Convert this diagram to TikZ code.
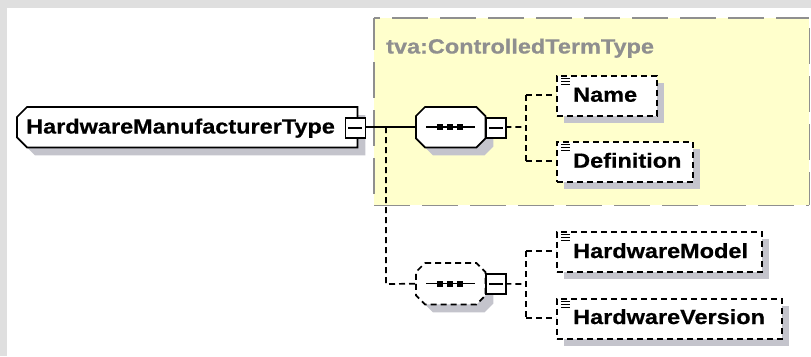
\documentclass[tikz,border=0pt]{standalone}
\usepackage{fontspec}
\setmainfont[FakeStretch=1.145,BoldFeatures={FakeBold=0.6}]{Liberation Sans}
\usetikzlibrary{calc}
\definecolor{pagegray}{HTML}{DFDFDF}
\definecolor{paleyellow}{HTML}{FFFFCC}
\definecolor{boxgray}{HTML}{8F8F8F}
\definecolor{shadowgray}{HTML}{C4C4CC}
% #1 node, #2 left chamfer, #3 right chamfer, #4 outline options
\newcommand{\chamferbox}[4]{%
  \fill[shadowgray] ($(#1.north west)+(8+#2,8)$) -- ($(#1.north east)+(8-#3,8)$) -- ($(#1.north east)+(8,8+#3)$) -- ($(#1.south east)+(8,8-#3)$) -- ($(#1.south east)+(8-#3,8)$) -- ($(#1.south west)+(8+#2,8)$) -- ($(#1.south west)+(8,8-#2)$) -- ($(#1.north west)+(8,8+#2)$) -- cycle;
  \draw[#4,fill=white] ($(#1.north west)+(#2,0)$) -- ($(#1.north east)+(-#3,0)$) -- ($(#1.north east)+(0,#3)$) -- ($(#1.south east)+(0,-#3)$) -- ($(#1.south east)+(-#3,0)$) -- ($(#1.south west)+(#2,0)$) -- ($(#1.south west)+(0,-#2)$) -- ($(#1.north west)+(0,#2)$) -- cycle;
}
\tikzset{
  x=1pt,y=-1pt,
  lbl/.style={font=\fontsize{20.5}{21}\selectfont\bfseries,text=black,inner sep=0pt,anchor=base west},
  geom/.style={rectangle,inner sep=0pt,anchor=north west},
  solidline/.style={draw=black,line width=1.7pt},
  dashline/.style={draw=black,line width=1.7pt,dash pattern=on 6pt off 4pt},
  regionedge/.style={draw=boxgray,line width=1.8pt,dash pattern=on 36pt off 12pt},
  elem/.style={geom,dashline,fill=white,minimum height=40pt},
  plusbox/.style={geom,draw=black,line width=1.8pt,fill=white,minimum width=20pt,minimum height=20pt},
  seqline/.style={draw=black,line width=1.5pt},
  seqdot/.style={fill=black,minimum size=6pt,inner sep=0pt,rectangle},
  dots/.style={draw=black,line width=0.9pt}
}
\begin{document}
\begin{tikzpicture}
\useasboundingbox (0,0) rectangle (811,356);
\fill[pagegray] (0,0) rectangle (811,356);
\fill[white] (7,8) rectangle (811,356);
% yellow region
\node[geom,fill=paleyellow,minimum width=435pt,minimum height=187pt] (region) at (374,18) {};
\draw[regionedge,dash phase=30pt] (region.north west) -- (region.north east);
\draw[regionedge,dash phase=4pt] (region.north west) -- (region.south west);
\draw[regionedge] (region.south west) -- (region.south east);
\draw[regionedge,dash phase=38pt] (region.north east) -- (region.south east);
\node[lbl,text=boxgray] (regionlabel) at (386,53.5) {tva:ControlledTermType};
% geometry of the chamfered nodes
\node[geom,minimum width=340pt,minimum height=40pt] (root) at (17,107) {};
\node[geom,minimum width=69pt,minimum height=40pt] (seqa) at (416,107) {};
\node[geom,minimum width=69pt,minimum height=41pt] (seqb) at (416,263) {};
\coordinate (j0) at (386,127);
\coordinate (j0b) at (386,284);
\coordinate (j1) at (526,127);
\coordinate (j1t) at (526,95);
\coordinate (j1b) at (526,161);
\coordinate (j2) at (526,284);
\coordinate (j2t) at (526,251);
\coordinate (j2b) at (526,318);
% connectors
\draw[solidline] (root.east) -- (seqa.west);
\draw[dashline] (j0) -- (j0b) -- (seqb.west);
\draw[dashline] (seqa.east) -- (j1);
\draw[dashline] (j1t) -- (j1b);
\draw[dashline] (seqb.east) -- (j2);
\draw[dashline] (j2t) -- (j2b);
% chamfered nodes
\chamferbox{root}{10}{0}{solidline}
\chamferbox{seqa}{9}{9}{solidline}
\chamferbox{seqb}{9}{9}{dashline}
\node[lbl] (rootlabel) at (26,133.5) {HardwareManufacturerType};
\node[plusbox] (rootbox) at (344.5,117) {};
\node[plusbox] (seqabox) at (485,117) {};
\node[plusbox] (seqbbox) at (485,273) {};
\foreach \b in {rootbox,seqabox,seqbbox}{
  \draw[seqline] ($(\b.center)+(-7,0)$) -- ($(\b.center)+(7,0)$);
}
\foreach \s in {seqa,seqb}{
  \draw[seqline] ($(\s.west)+(10,0)$) -- ($(\s.west)+(59,0)$);
  \node[seqdot] at ($(\s.west)+(24,0)$) {};
  \node[seqdot] at ($(\s.west)+(34,0)$) {};
  \node[seqdot] at ($(\s.west)+(44,0)$) {};
}
% elements
\foreach \n/\w/\yy in {name/100/75,definition/136/141,model/205/231,version/225/298}{
  \fill[shadowgray] (564,\yy+8) rectangle (564+\w,\yy+48);
  \node[elem,minimum width=\w pt] (\n) at (556,\yy) {};
  \foreach \d in {3,6,9}{
    \draw[dots] ($(\n.north west)+(5,\d)$) -- ($(\n.north west)+(14,\d)$);
  }
}
\node[lbl] (namelabel) at (573,101.7) {Name};
\node[lbl] (definitionlabel) at (573,167.7) {Definition};
\node[lbl] (modellabel) at (573,258) {HardwareModel};
\node[lbl] (versionlabel) at (573,324) {HardwareVersion};
\draw[dashline] (j1t) -- (name.west |- j1t);
\draw[dashline] (j1b) -- (definition.west |- j1b);
\draw[dashline] (j2t) -- (model.west |- j2t);
\draw[dashline] (j2b) -- (version.west |- j2b);
\end{tikzpicture}
\end{document}
